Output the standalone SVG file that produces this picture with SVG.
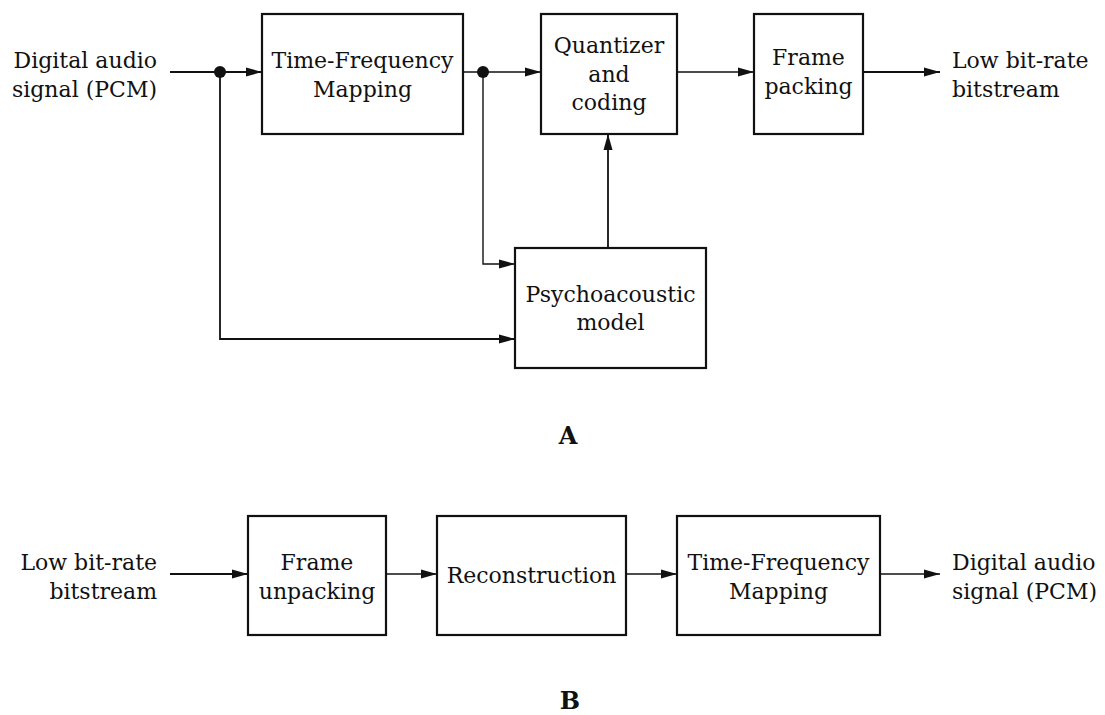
<svg xmlns="http://www.w3.org/2000/svg" width="1105" height="715" viewBox="0 0 1105 715">
<style>
.box{fill:#fff;stroke:#111;stroke-width:2.2}
.t{font-family:"DejaVu Serif","Liberation Serif",serif;font-size:22px;fill:#111}
.c{text-anchor:middle}
.e{text-anchor:end}
.lbl{font-family:"DejaVu Serif","Liberation Serif",serif;font-size:24px;font-weight:bold;fill:#111;text-anchor:middle}
.ln{fill:none;stroke:#111;stroke-width:1.8}
.thin{stroke-width:1.4}
</style>
<defs>
<marker id="ah" viewBox="0 0 16 10" refX="16" refY="5" markerWidth="16" markerHeight="10" markerUnits="userSpaceOnUse" orient="auto">
<path d="M0,0.5 L16,5 L0,9.5 Z" fill="#111"/>
</marker>
</defs>
<rect width="1105" height="715" fill="#fff"/>

<g id="connectors">
<line class="ln" x1="170" y1="72" x2="262" y2="72" marker-end="url(#ah)"/>
<line class="ln thin" x1="463" y1="72" x2="541" y2="72" marker-end="url(#ah)"/>
<line class="ln thin" x1="677" y1="72" x2="754" y2="72" marker-end="url(#ah)"/>
<line class="ln" x1="863" y1="72" x2="940" y2="72" marker-end="url(#ah)"/>
<polyline class="ln" points="220,72 220,339 515,339" marker-end="url(#ah)"/>
<polyline class="ln thin" points="483,72 483,264 515,264" marker-end="url(#ah)"/>
<line class="ln" x1="608" y1="248" x2="608" y2="134" marker-end="url(#ah)"/>
<circle cx="220" cy="72" r="6" fill="#111"/>
<circle cx="483" cy="72" r="6" fill="#111"/>
<line class="ln" x1="170" y1="574" x2="248" y2="574" marker-end="url(#ah)"/>
<line class="ln thin" x1="386" y1="574" x2="437" y2="574" marker-end="url(#ah)"/>
<line class="ln thin" x1="626" y1="574" x2="677" y2="574" marker-end="url(#ah)"/>
<line class="ln thin" x1="880" y1="574" x2="940" y2="574" marker-end="url(#ah)"/>
</g>

<g id="in-a">
<text class="t e" x="157" y="68">Digital audio</text>
<text class="t e" x="157" y="97">signal (PCM)</text>
</g>
<g id="tfm-a">
<rect class="box" x="262" y="14" width="201" height="120"/>
<text class="t c" x="362.5" y="68">Time-Frequency</text>
<text class="t c" x="362.5" y="97">Mapping</text>
</g>
<g id="quant">
<rect class="box" x="541" y="14" width="136" height="120"/>
<text class="t c" x="609" y="53">Quantizer</text>
<text class="t c" x="609" y="82">and</text>
<text class="t c" x="609" y="110">coding</text>
</g>
<g id="packing">
<rect class="box" x="754" y="14" width="109" height="120"/>
<text class="t c" x="808.5" y="65">Frame</text>
<text class="t c" x="808.5" y="94">packing</text>
</g>
<g id="out-a">
<text class="t" x="952" y="68">Low bit-rate</text>
<text class="t" x="952" y="97">bitstream</text>
</g>
<g id="psycho">
<rect class="box" x="515" y="248" width="191" height="120"/>
<text class="t c" x="610.5" y="302">Psychoacoustic</text>
<text class="t c" x="610.5" y="330">model</text>
</g>
<text id="label-a" class="lbl" x="568" y="444">A</text>

<g id="in-b">
<text class="t e" x="157" y="570">Low bit-rate</text>
<text class="t e" x="157" y="599">bitstream</text>
</g>
<g id="unpacking">
<rect class="box" x="248" y="516" width="138" height="119"/>
<text class="t c" x="317" y="570">Frame</text>
<text class="t c" x="317" y="599">unpacking</text>
</g>
<g id="recon">
<rect class="box" x="437" y="516" width="189" height="119"/>
<text class="t c" x="531.5" y="583">Reconstruction</text>
</g>
<g id="tfm-b">
<rect class="box" x="677" y="516" width="203" height="119"/>
<text class="t c" x="778.5" y="570">Time-Frequency</text>
<text class="t c" x="778.5" y="599">Mapping</text>
</g>
<g id="out-b">
<text class="t" x="952" y="570">Digital audio</text>
<text class="t" x="952" y="599">signal (PCM)</text>
</g>
<text id="label-b" class="lbl" x="570" y="709">B</text>
</svg>
